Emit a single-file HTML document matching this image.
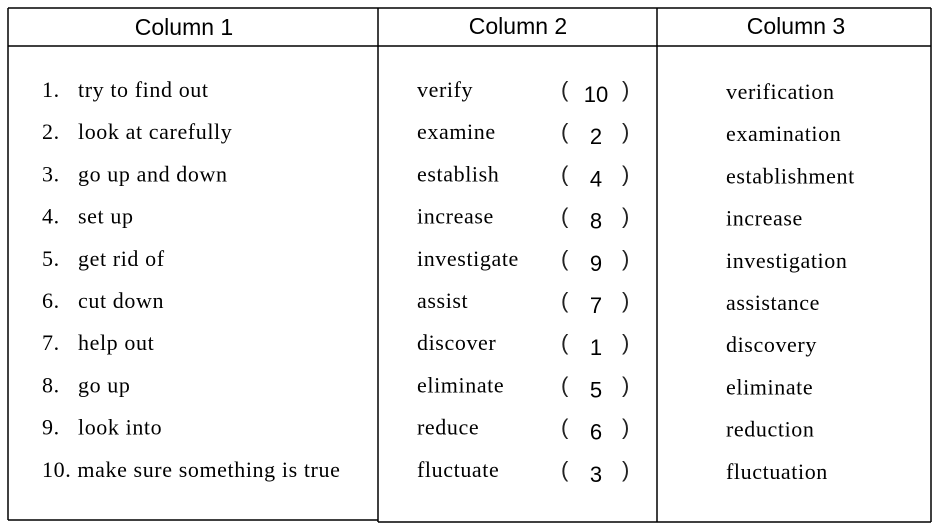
<!DOCTYPE html>
<html><head><meta charset="utf-8"><style>
body{margin:0;background:#fff;}
svg{display:block}
.s{font-family:"Liberation Serif",serif;font-size:22px;letter-spacing:0.6px;fill:#000}
.h{font-family:"Liberation Sans",sans-serif;font-size:23px;fill:#000}
.n{font-family:"Liberation Sans",sans-serif;font-size:22px;fill:#000}
.p{font-family:"Liberation Sans",sans-serif;font-size:22px;fill:#222}
</style></head><body>
<svg width="937" height="530" xmlns="http://www.w3.org/2000/svg">
<g stroke="#000" stroke-width="1.5" fill="none">
<line x1="8" y1="8" x2="931" y2="8"/>
<line x1="8" y1="46" x2="931" y2="46"/>
<line x1="8" y1="8" x2="8" y2="520"/>
<line x1="8" y1="520" x2="378" y2="520"/>
<line x1="378" y1="8" x2="378" y2="522"/>
<line x1="378" y1="522" x2="931" y2="522"/>
<line x1="657" y1="8" x2="657" y2="522"/>
<line x1="931" y1="8" x2="931" y2="522"/>
</g>
<text class="h" x="184" y="35" text-anchor="middle">Column 1</text>
<text class="h" x="518" y="34" text-anchor="middle">Column 2</text>
<text class="h" x="796" y="34" text-anchor="middle">Column 3</text>
<g id="rows"></g>
</svg>
<script>
const phrases=["try to find out","look at carefully","go up and down","set up","get rid of","cut down","help out","go up","look into","make sure something is true"];
const verbs=["verify","examine","establish","increase","investigate","assist","discover","eliminate","reduce","fluctuate"];
const answers=["10","2","4","8","9","7","1","5","6","3"];
const nouns=["verification","examination","establishment","increase","investigation","assistance","discovery","eliminate","reduction","fluctuation"];
const g=document.getElementById('rows');
const NS="http://www.w3.org/2000/svg";
function t(cls,x,y,s,anchor){const e=document.createElementNS(NS,'text');e.setAttribute('class',cls);e.setAttribute('x',x);e.setAttribute('y',y);if(anchor)e.setAttribute('text-anchor',anchor);e.textContent=s;g.appendChild(e);return e;}
for(let i=0;i<10;i++){
 const y=97+i*42.2;
 let e;
 if(i<9){
  e=t('s',42,y,(i+1)+'.');
  
  
  e=t('s',78,y,phrases[i]);
 } else {
  e=t('s',42,y,'10. '+phrases[i]);
 }
 
 
 e=t('s',417,y,verbs[i]);
 
 
 e=t('p',561,y,'(');
 
 
 e=t('n',596,y+5,answers[i],'middle');
 
 
 e=t('p',622,y,')');
 
 
 e=t('s',726,y+2,nouns[i]);
 
 
}
</script>
</body></html>
